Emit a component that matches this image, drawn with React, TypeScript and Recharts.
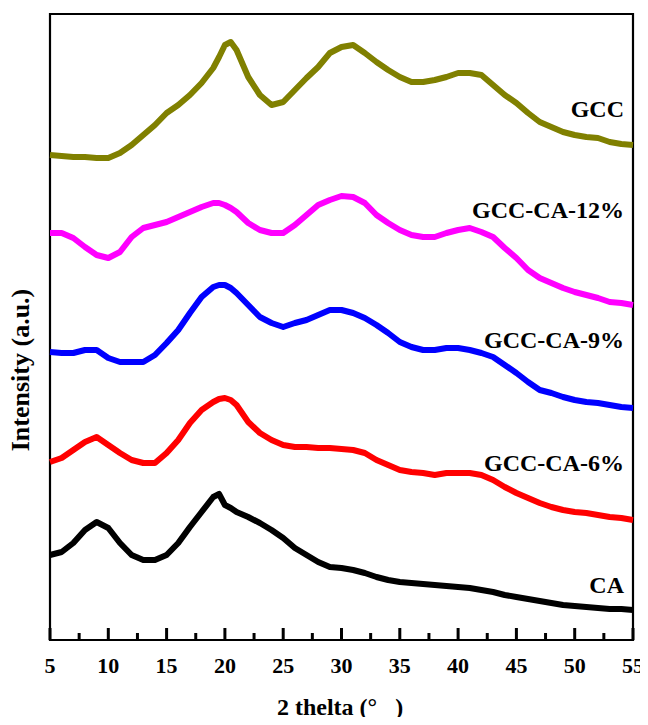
import { LineChart, Line, XAxis, YAxis, ReferenceArea, ReferenceLine } from "recharts";

// 2θ positions (degrees)
const theta = [
  5, 6, 7, 8, 9, 10, 11, 12, 13, 14, 15, 16, 17, 18, 19, 19.5, 20, 20.5,
  21, 22, 23, 24, 25, 26, 27, 28, 29, 30, 31, 32, 33, 34, 35, 36, 37, 38, 39, 40,
  41, 42, 43, 44, 45, 46, 47, 48, 49, 50, 51, 52, 53, 54, 55,
];

// intensities (a.u., already stacked with offsets as in the figure)
const gcc = [
  489, 488, 487, 487, 486, 486, 491, 499, 509, 519, 531, 539, 549, 561, 576, 587, 599, 602,
  594, 567, 549, 539, 542, 554, 566, 577, 591, 597, 599, 591, 582, 574, 567, 562, 562, 564, 567, 571,
  571, 569, 559, 549, 541, 531, 522, 517, 512, 509, 507, 506, 502, 500, 499,
];
const gccCa12 = [
  411, 411, 406, 397, 389, 386, 392, 407, 416, 419, 422, 427, 432, 437, 441, 441, 439, 436,
  432, 421, 414, 411, 411, 419, 429, 439, 444, 448, 447, 441, 429, 421, 414, 409, 407, 407, 411, 414,
  416, 412, 407, 396, 386, 374, 366, 361, 356, 352, 349, 346, 342, 341, 339,
];
const gccCa9 = [
  292, 291, 291, 294, 294, 286, 282, 282, 282, 289, 301, 314, 331, 347, 357, 359, 359, 356,
  351, 339, 327, 321, 317, 321, 324, 329, 334, 334, 331, 326, 319, 311, 302, 297, 294, 294, 296, 296,
  294, 291, 287, 279, 271, 262, 254, 251, 247, 244, 242, 241, 239, 237, 236,
];
const gccCa6 = [
  182, 186, 194, 202, 207, 199, 191, 184, 181, 181, 191, 204, 221, 234, 242, 245, 246, 244,
  239, 222, 211, 204, 199, 197, 197, 196, 196, 195, 194, 191, 184, 179, 174, 172, 171, 169, 171, 171,
  171, 169, 164, 157, 151, 146, 141, 137, 134, 132, 131, 129, 127, 126, 124,
];
const ca = [
  89, 92, 101, 114, 122, 116, 101, 89, 84, 84, 89, 101, 117, 132, 147, 150, 139, 136,
  132, 127, 121, 114, 106, 96, 89, 82, 77, 76, 74, 71, 67, 64, 62, 61, 60, 59, 58, 57,
  56, 54, 52, 49, 47, 45, 43, 41, 39, 38, 37, 36, 35, 35, 34,
];

const majorTicks = [5, 10, 15, 20, 25, 30, 35, 40, 45, 50, 55];
const minorTicks = [7.5, 12.5, 17.5, 22.5, 27.5, 32.5, 37.5, 42.5, 47.5, 52.5];
const X_MIN = 5;
const X_MAX = 55;
const Y_MIN = 4;
const Y_MAX = 630;

// frame sits a little inside the plotting area
const FRAME_GAP = 6;

const series = [
  { key: "GCC", values: gcc, color: "#808000", top: 89 },
  { key: "GCC-CA-12%", values: gccCa12, color: "#ff00ff", top: 190 },
  { key: "GCC-CA-9%", values: gccCa9, color: "#0000ff", top: 320 },
  { key: "GCC-CA-6%", values: gccCa6, color: "#ff0000", top: 443 },
  { key: "CA", values: ca, color: "#000000", top: 565 },
];

const data = theta.map((t, i) => {
  const row: { [k: string]: number } = { theta: t };
  series.forEach((s) => {
    row[s.key] = s.values[i];
  });
  return row;
});

const FONT = '"Liberation Serif", "Times New Roman", serif';

// bold labels under the frame
function XTick(props: any) {
  const { x, y, payload } = props;
  return (
    <text x={x} y={y - FRAME_GAP + 33} textAnchor="middle" fontFamily={FONT} fontWeight="bold" fontSize={22} fill="#000">
      {payload.value}
    </text>
  );
}

export default function App() {
  return (
    <div style={{ position: "relative", width: 640, height: 709, fontFamily: FONT }}>
      <LineChart width={640} height={709} data={data} margin={{ top: 0, right: 3.34, bottom: 70, left: 29.34 }}>
        <XAxis
          dataKey="theta"
          type="number"
          domain={[X_MIN - 1, X_MAX + 1]}
          allowDataOverflow
          ticks={majorTicks}
          interval={0}
          height={1}
          tickSize={0}
          tickMargin={0}
          tickLine={false}
          tick={<XTick />}
          axisLine={false}
        />
        <YAxis
          type="number"
          domain={[Y_MIN - FRAME_GAP, Y_MAX + FRAME_GAP]}
          allowDataOverflow
          width={1}
          tick={false}
          tickLine={false}
          axisLine={false}
        />

        {/* plot frame */}
        <ReferenceArea
          x1={X_MIN}
          x2={X_MAX}
          y1={Y_MIN}
          y2={Y_MAX}
          fill="none"
          fillOpacity={0}
          stroke="#000"
          strokeWidth={2.2}
          strokeOpacity={1}
          ifOverflow="visible"
        />

        {/* inward ticks on the bottom edge */}
        {majorTicks.map((t) => (
          <ReferenceLine
            key={`M${t}`}
            segment={[
              { x: t, y: Y_MIN },
              { x: t, y: Y_MIN + 12 },
            ]}
            stroke="#000"
            strokeWidth={3}
            ifOverflow="visible"
          />
        ))}
        {minorTicks.map((t) => (
          <ReferenceLine
            key={`m${t}`}
            segment={[
              { x: t, y: Y_MIN },
              { x: t, y: Y_MIN + 7 },
            ]}
            stroke="#000"
            strokeWidth={3}
            ifOverflow="visible"
          />
        ))}

        {series.map((s) => (
          <Line
            key={s.key}
            type="linear"
            dataKey={s.key}
            stroke={s.color}
            strokeWidth={6}
            strokeLinejoin="round"
            dot={false}
            isAnimationActive={false}
          />
        ))}
      </LineChart>

      {series.map((s) => (
        <div
          key={s.key}
          style={{
            position: "absolute",
            right: 24,
            top: s.top,
            fontSize: 24,
            lineHeight: 1,
            fontWeight: "bold",
            whiteSpace: "nowrap",
          }}
        >
          {s.key}
        </div>
      ))}

      <div
        style={{
          position: "absolute",
          left: 332,
          top: 687,
          transform: "translateX(-50%)",
          fontSize: 24,
          lineHeight: 1,
          fontWeight: "bold",
          whiteSpace: "pre",
        }}
      >
        {"2 thelta (°   )"}
      </div>

      <div
        style={{
          position: "absolute",
          left: 13,
          top: 362,
          transform: "translate(-50%, -50%) rotate(-90deg)",
          fontSize: 26,
          lineHeight: 1,
          fontWeight: "bold",
          whiteSpace: "nowrap",
        }}
      >
        Intensity (a.u.)
      </div>
    </div>
  );
}
